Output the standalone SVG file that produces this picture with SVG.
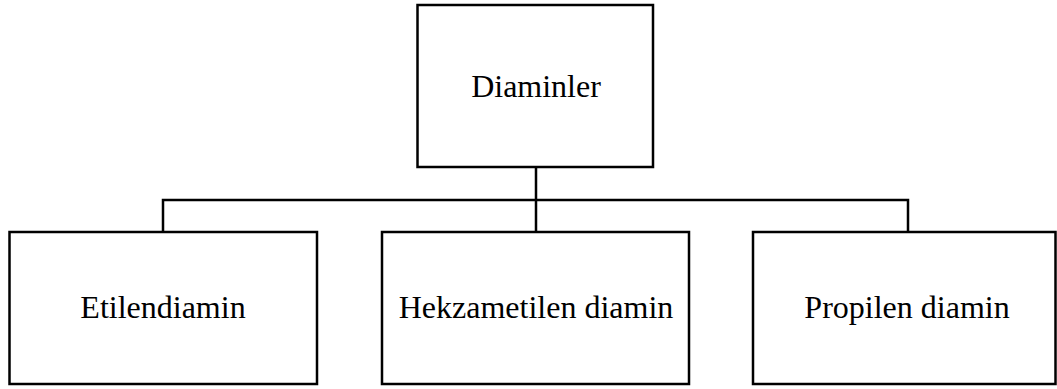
<svg xmlns="http://www.w3.org/2000/svg" width="1057" height="389" viewBox="0 0 1057 389">
<style>
rect{fill:#fff;stroke:#000;stroke-width:2.5}
text{font-family:"Liberation Serif","Times New Roman",serif;font-size:32px;fill:#000;text-anchor:middle}
.c{fill:none;stroke:#000;stroke-width:2.5}
</style>
<rect width="1057" height="389" fill="#fff" style="stroke:none"/>
<g id="connectors">
<path class="c" d="M536 167V232M163 232V200H908V232"/>
</g>
<g id="diaminler"><rect x="417.5" y="5" width="235.5" height="162"/><text x="536" y="97">Diaminler</text></g>
<g id="etilendiamin"><rect x="9.5" y="232" width="307.5" height="152"/><text x="163" y="318">Etilendiamin</text></g>
<g id="hekzametilen"><rect x="382" y="232" width="307" height="152"/><text x="536" y="318">Hekzametilen diamin</text></g>
<g id="propilen"><rect x="753" y="232" width="302.5" height="152"/><text x="907" y="318">Propilen diamin</text></g>
</svg>
